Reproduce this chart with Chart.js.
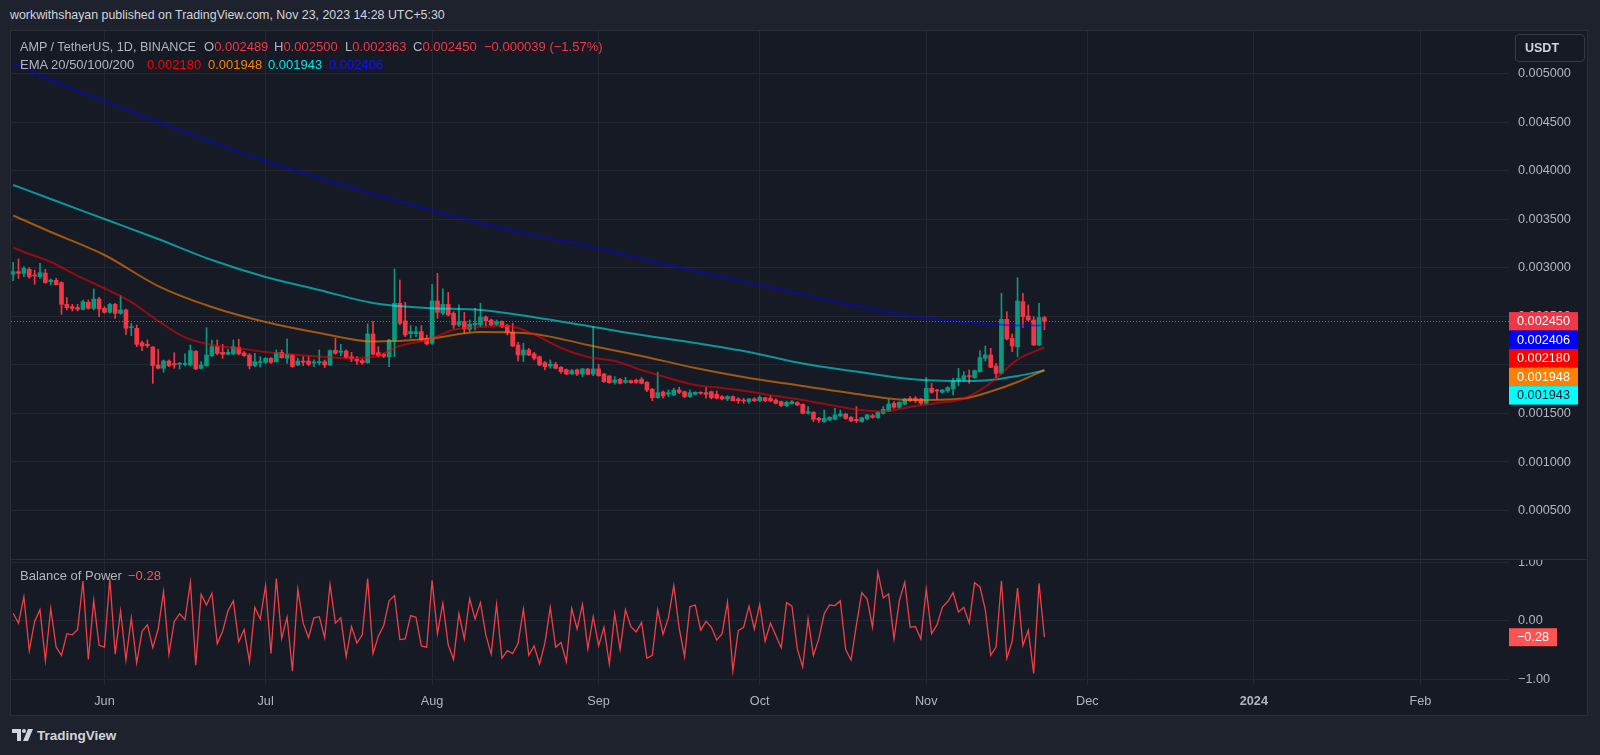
<!DOCTYPE html>
<html>
<head>
<meta charset="utf-8">
<title>AMP / TetherUS</title>
<script src="https://cdn.jsdelivr.net/npm/chart.js@4.4.1/dist/chart.umd.min.js"></script>
<style>
  html, body { margin: 0; padding: 0; }
  body { width: 1600px; height: 755px; background: #1e222d; position: relative; overflow: hidden;
         font-family: 'Liberation Sans', Arial, sans-serif; }
  #frame { position: absolute; left: 10px; top: 30px; width: 1576px; height: 684px;
           background: #161a25; border: 1px solid #2a2e39; }
  canvas { position: absolute; left: 11px; }
  #mainChart { top: 31px; }
  #bopChart { top: 560px; }
  #sep { position: absolute; left: 11px; top: 559px; width: 1576px; height: 1px; background: #2a2e39; }
  .txt { position: absolute; font-size: 13px; line-height: 16px; color: #b2b5be; white-space: nowrap; }
  #title { left: 10px; top: 7px; color: #d1d4dc; font-size: 12.4px; }
  #usdt { position: absolute; left: 1515px; top: 34px; width: 70px; height: 28px; box-sizing: border-box;
          border: 1px solid #363a45; border-radius: 4px; color: #d1d4dc; font-size: 12.5px; font-weight: bold;
          line-height: 26px; padding-left: 9px; }
  #logo { position: absolute; left: 12px; top: 728px; color: #d1d4dc; font-size: 13.5px; font-weight: bold; }
  #logo svg { vertical-align: -1px; margin-right: 4px; }
</style>
</head>
<body>
<div id="frame"></div>
<canvas id="mainChart" width="1576" height="528"></canvas>
<div id="sep"></div>
<canvas id="bopChart" width="1576" height="155"></canvas>

<div id="title" class="txt">workwithshayan published on TradingView.com, Nov 23, 2023 14:28 UTC+5:30</div>
<div id="usdt">USDT</div>

<div class="txt" style="left:20px;top:39px;font-size:12.6px">AMP / TetherUS, 1D, BINANCE</div>
<div class="txt" id="lgO" style="left:204px;top:39px"></div>
<div class="txt" id="lgH" style="left:274px;top:39px"></div>
<div class="txt" id="lgL" style="left:345px;top:39px"></div>
<div class="txt" id="lgC" style="left:413px;top:39px"></div>
<div class="txt" id="lgChg" style="left:484px;top:39px;color:#f23645"></div>

<div class="txt" style="left:20px;top:57px">EMA 20/50/100/200</div>
<div class="txt" id="lgE20" style="left:147px;top:57px;color:#ff0000"></div>
<div class="txt" id="lgE50" style="left:208px;top:57px;color:#ff8000"></div>
<div class="txt" id="lgE100" style="left:268px;top:57px;color:#00e5e5"></div>
<div class="txt" id="lgE200" style="left:329px;top:57px;color:#1010ff"></div>

<div class="txt" style="left:20px;top:568px">Balance of Power</div>
<div class="txt" id="lgBop" style="left:128px;top:568px;color:#ff5252"></div>

<div id="logo"><svg width="21" height="12" viewBox="0 0 21 12"><path d="M0 0h9v12H5V4H0z" fill="#d1d4dc"/><circle cx="12" cy="2" r="2" fill="#d1d4dc"/><path d="M16 0h5l-5 12h-5z" fill="#d1d4dc"/></svg>TradingView</div>

<script>
// AMP / USDT daily candles, Binance. First candle = May 15, 2023.
// x values are days counted from Jun 1, 2023.
const firstDay = -17;

const opens = [
  0.002935,0.002962,0.002945,0.002986,0.002928,0.002911,0.002948,0.002859,0.002873,0.002849,
  0.002625,0.002601,0.002591,0.002574,0.002646,0.002584,0.002680,0.002584,0.002543,0.002625,
  0.002533,0.002567,0.002385,0.002378,0.002230,0.002213,0.002186,0.002000,0.001966,0.002041,
  0.002014,0.002007,0.002007,0.002000,0.002141,0.001966,0.001993,0.002096,0.002189,0.002131,
  0.002110,0.002114,0.002182,0.002124,0.002103,0.001993,0.002024,0.002028,0.002069,0.002034,
  0.002131,0.002069,0.002103,0.002000,0.002041,0.002041,0.002021,0.002024,0.002034,0.002000,
  0.002151,0.002131,0.002144,0.002086,0.002059,0.002045,0.002024,0.002320,0.002127,0.002110,
  0.002086,0.002247,0.002636,0.002454,0.002323,0.002323,0.002344,0.002275,0.002223,0.002660,
  0.002533,0.002625,0.002533,0.002412,0.002447,0.002368,0.002412,0.002412,0.002495,0.002464,
  0.002419,0.002447,0.002406,0.002337,0.002206,0.002103,0.002155,0.002114,0.002086,0.002024,
  0.001990,0.002007,0.001976,0.001952,0.001907,0.001949,0.001907,0.001959,0.001907,0.001959,
  0.001907,0.001887,0.001821,0.001852,0.001821,0.001839,0.001842,0.001852,0.001821,0.001749,
  0.001663,0.001722,0.001698,0.001691,0.001742,0.001725,0.001674,0.001698,0.001718,0.001715,
  0.001725,0.001698,0.001674,0.001650,0.001674,0.001650,0.001639,0.001622,0.001650,0.001632,
  0.001663,0.001657,0.001639,0.001622,0.001581,0.001602,0.001612,0.001595,0.001502,0.001512,
  0.001450,0.001416,0.001433,0.001440,0.001474,0.001495,0.001461,0.001440,0.001416,0.001444,
  0.001478,0.001457,0.001502,0.001526,0.001605,0.001564,0.001598,0.001657,0.001657,0.001650,
  0.001605,0.001760,0.001742,0.001718,0.001732,0.001753,0.001839,0.001845,0.001890,0.001870,
  0.001931,0.002069,0.002103,0.001990,0.001914,0.002471,0.002275,0.002189,0.002653,0.002505,
  0.002464,0.002206,0.002489
];
const highs = [
  0.003058,0.003093,0.003014,0.003003,0.002979,0.003048,0.002986,0.002887,0.002893,0.002859,
  0.002694,0.002625,0.002625,0.002670,0.002670,0.002784,0.002698,0.002601,0.002636,0.002636,
  0.002715,0.002577,0.002430,0.002412,0.002247,0.002258,0.002189,0.002162,0.002052,0.002052,
  0.002127,0.002028,0.002114,0.002206,0.002148,0.002034,0.002385,0.002258,0.002258,0.002213,
  0.002162,0.002258,0.002265,0.002138,0.002117,0.002120,0.002086,0.002079,0.002076,0.002155,
  0.002155,0.002268,0.002110,0.002069,0.002086,0.002086,0.002052,0.002155,0.002052,0.002155,
  0.002275,0.002213,0.002155,0.002131,0.002086,0.002062,0.002423,0.002447,0.002189,0.002120,
  0.002265,0.002990,0.002876,0.002646,0.002406,0.002395,0.002406,0.002309,0.002832,0.002945,
  0.002784,0.002749,0.002550,0.002619,0.002543,0.002464,0.002584,0.002636,0.002505,0.002474,
  0.002464,0.002454,0.002419,0.002430,0.002234,0.002223,0.002172,0.002131,0.002093,0.002034,
  0.002052,0.002028,0.001983,0.001959,0.001955,0.001959,0.001966,0.001966,0.002395,0.002007,
  0.001914,0.001890,0.001880,0.001863,0.001873,0.001845,0.001856,0.001870,0.001828,0.001760,
  0.001925,0.001732,0.001742,0.001760,0.001770,0.001732,0.001742,0.001725,0.001725,0.001766,
  0.001732,0.001732,0.001684,0.001684,0.001681,0.001663,0.001657,0.001657,0.001663,0.001684,
  0.001670,0.001684,0.001650,0.001629,0.001629,0.001632,0.001622,0.001598,0.001571,0.001519,
  0.001461,0.001536,0.001468,0.001553,0.001536,0.001502,0.001468,0.001571,0.001461,0.001492,
  0.001492,0.001519,0.001571,0.001646,0.001622,0.001622,0.001657,0.001674,0.001674,0.001657,
  0.001873,0.001811,0.001749,0.001749,0.001777,0.001863,0.001966,0.001931,0.001949,0.001949,
  0.002148,0.002196,0.002172,0.002017,0.002739,0.002550,0.002320,0.002900,0.002739,0.002619,
  0.002498,0.002636,0.002500
];
const lows = [
  0.002869,0.002893,0.002911,0.002893,0.002832,0.002893,0.002842,0.002825,0.002825,0.002522,
  0.002567,0.002557,0.002557,0.002567,0.002574,0.002567,0.002498,0.002533,0.002533,0.002481,
  0.002522,0.002316,0.002302,0.002189,0.002148,0.002179,0.001811,0.001959,0.001925,0.001983,
  0.001966,0.001959,0.001990,0.001990,0.001952,0.001959,0.001986,0.002089,0.002103,0.002069,
  0.002103,0.002107,0.002103,0.002089,0.001959,0.001983,0.001979,0.002017,0.002017,0.002028,
  0.002069,0.002017,0.001976,0.001993,0.001993,0.001993,0.001983,0.002000,0.001973,0.001993,
  0.002110,0.002096,0.002069,0.002034,0.002007,0.002007,0.002017,0.002103,0.002083,0.002076,
  0.001983,0.002086,0.002412,0.002292,0.002275,0.002292,0.002247,0.002206,0.002213,0.002481,
  0.002516,0.002505,0.002378,0.002395,0.002327,0.002344,0.002361,0.002395,0.002406,0.002406,
  0.002406,0.002385,0.002309,0.002189,0.002041,0.002034,0.002096,0.002052,0.001993,0.001949,
  0.001966,0.001959,0.001914,0.001900,0.001904,0.001890,0.001880,0.001897,0.001890,0.001883,
  0.001821,0.001811,0.001801,0.001804,0.001811,0.001811,0.001811,0.001804,0.001725,0.001632,
  0.001657,0.001657,0.001674,0.001684,0.001705,0.001663,0.001663,0.001691,0.001698,0.001657,
  0.001650,0.001650,0.001639,0.001632,0.001629,0.001605,0.001605,0.001605,0.001622,0.001622,
  0.001622,0.001622,0.001598,0.001571,0.001571,0.001595,0.001581,0.001495,0.001492,0.001416,
  0.001409,0.001409,0.001426,0.001433,0.001468,0.001440,0.001416,0.001406,0.001409,0.001433,
  0.001450,0.001450,0.001492,0.001519,0.001553,0.001553,0.001588,0.001622,0.001612,0.001588,
  0.001595,0.001708,0.001646,0.001708,0.001718,0.001691,0.001787,0.001835,0.001811,0.001863,
  0.001925,0.002041,0.001973,0.001870,0.001907,0.002258,0.002138,0.002086,0.002388,0.002457,
  0.002199,0.002199,0.002363
];
const closes = [
  0.002962,0.002945,0.002997,0.002911,0.002918,0.002952,0.002849,0.002876,0.002828,0.002625,
  0.002591,0.002584,0.002574,0.002653,0.002584,0.002680,0.002577,0.002543,0.002625,0.002533,
  0.002567,0.002378,0.002395,0.002213,0.002196,0.002199,0.001993,0.001966,0.002041,0.001993,
  0.002000,0.002017,0.002014,0.002148,0.001959,0.002000,0.002103,0.002189,0.002120,0.002110,
  0.002131,0.002189,0.002114,0.002096,0.001990,0.002034,0.002034,0.002069,0.002028,0.002127,
  0.002076,0.002110,0.001983,0.002041,0.002028,0.002007,0.002028,0.002034,0.002000,0.002148,
  0.002120,0.002144,0.002076,0.002062,0.002041,0.002024,0.002320,0.002110,0.002093,0.002089,
  0.002258,0.002636,0.002430,0.002309,0.002344,0.002344,0.002258,0.002217,0.002660,0.002543,
  0.002625,0.002516,0.002412,0.002447,0.002371,0.002419,0.002430,0.002495,0.002454,0.002412,
  0.002447,0.002395,0.002337,0.002196,0.002103,0.002155,0.002103,0.002069,0.002000,0.001983,
  0.002007,0.001966,0.001931,0.001907,0.001942,0.001907,0.001959,0.001904,0.001959,0.001890,
  0.001828,0.001818,0.001845,0.001811,0.001839,0.001818,0.001821,0.001811,0.001742,0.001663,
  0.001715,0.001681,0.001715,0.001742,0.001718,0.001674,0.001715,0.001718,0.001708,0.001698,
  0.001663,0.001657,0.001650,0.001674,0.001632,0.001632,0.001629,0.001650,0.001632,0.001667,
  0.001632,0.001629,0.001605,0.001581,0.001615,0.001622,0.001588,0.001502,0.001519,0.001440,
  0.001433,0.001450,0.001461,0.001485,0.001495,0.001450,0.001423,0.001426,0.001457,0.001485,
  0.001461,0.001512,0.001543,0.001598,0.001564,0.001615,0.001650,0.001632,0.001632,0.001605,
  0.001760,0.001718,0.001732,0.001742,0.001766,0.001835,0.001863,0.001890,0.001880,0.001942,
  0.002076,0.002103,0.001976,0.001914,0.002471,0.002268,0.002196,0.002660,0.002498,0.002464,
  0.002206,0.002489,0.002450
];

// Balance of Power, one value per candle
const bop = [
  0.13,-0.04,0.41,-0.51,-0.01,0.19,-0.68,0.21,-0.45,-0.59,-0.22,-0.24,-0.15,0.68,-0.66,0.35,-0.42,
  -0.45,0.72,-0.57,0.17,-0.67,0.05,-0.72,-0.18,-0.07,-0.46,
  -0.14,0.50,-0.57,-0.01,0.12,0.02,0.66,-0.76,0.45,0.27,
  0.47,-0.39,-0.18,0.17,0.34,-0.36,-0.15,-0.70,0.23,0.03,
  0.60,-0.56,0.72,-0.30,0.06,-0.86,0.54,-0.04,-0.29,0.05,
  0.07,-0.29,0.62,-0.04,0.05,-0.61,-0.10,-0.38,-0.24,0.72,
  -0.56,-0.26,-0.08,0.34,0.43,-0.32,-0.31,0.09,0.06,-0.43,
  -0.45,0.69,-0.22,0.30,-0.41,-0.66,0.12,-0.31,0.38,0.03,
  0.31,-0.24,-0.57,0.28,-0.64,-0.51,-0.56,-0.39,0.20,-0.59,
  -0.43,-0.74,-0.38,0.23,-0.45,-0.37,-0.70,0.21,-0.14,0.28,
  -0.48,0.07,-0.43,-0.11,-0.74,0.12,-0.49,0.19,-0.10,-0.19,
  -0.03,-0.64,-0.59,0.19,-0.23,0.05,0.60,-0.12,-0.61,0.24,
  0.27,-0.16,-0.01,-0.11,-0.33,-0.22,0.32,-0.86,-0.17,-0.11,
  0.25,-0.14,0.28,-0.35,-0.04,-0.25,-0.46,0.31,0.25,-0.48,
  -0.79,0.03,-0.59,-0.31,0.12,0.27,0.26,0.34,-0.49,-0.67,
  -0.07,0.48,0.37,-0.11,0.83,0.39,0.46,-0.31,0.35,0.66,
  -0.11,-0.10,-0.31,0.54,-0.22,-0.07,0.23,0.33,0.48,0.15,
  0.23,-0.04,0.65,0.58,0.19,-0.59,-0.45,0.68,-0.64,-0.35,
  0.56,-0.42,-0.16,-0.90,0.64,-0.28
];

// EMA lines
const emaDays = [-17,-10,0,10,20,30,40,50,60,70,80,90,100,110,120,130,140,150,160,165,170,175];
const ema200 = [0.005113,0.004938,0.004722,0.004505,0.004299,0.004103,0.003928,0.003763,0.003608,0.003464,0.003336,
                0.003227,0.003096,0.002969,0.002849,0.002727,0.002608,0.002505,0.002443,0.002423,0.002407,0.002406];
const ema100 = [0.003856,0.003711,0.003505,0.003299,0.003082,0.002907,0.002773,0.002639,0.002588,0.002567,0.002492,
                0.002402,0.002309,0.002227,0.002134,0.002015,0.001933,0.001856,0.001835,0.001845,0.001887,0.001943];
const ema50  = [0.003541,0.003371,0.003134,0.002814,0.002598,0.002443,0.002330,0.002242,0.002268,0.002340,0.002320,
                0.002206,0.002093,0.001969,0.001866,0.001784,0.001701,0.001639,0.001655,0.001727,0.001825,0.001948];
const ema20Days = [-17,-15,-10,-5,0,5,10,15,20,25,30,35,40,45,50,55,60,65,70,75,80,85,90,95,100,
                   105,110,115,120,125,130,135,140,145,150,155,160,165,170,175];
const ema20 = [0.003211,0.003165,0.003062,0.002918,0.002789,0.002649,0.002454,0.002284,0.002206,0.002172,
               0.002134,0.002108,0.002088,0.002072,0.002082,0.002196,0.002258,0.002361,0.002392,0.002402,
               0.002314,0.002175,0.002082,0.002041,0.001948,0.001866,0.001794,0.001763,0.001727,0.001680,
               0.001639,0.001588,0.001541,0.001521,0.001567,0.001608,0.001655,0.001814,0.002057,0.002180];

const monthDays = [0, 30, 61, 92, 122, 153, 183, 214, 245];
const monthLabels = ['Jun', 'Jul', 'Aug', 'Sep', 'Oct', 'Nov', 'Dec', '2024', 'Feb'];
const priceTicks = [0.0005, 0.001, 0.0015, 0.002, 0.0025, 0.003, 0.0035, 0.004, 0.0045, 0.005];
const bopTicks = [1, 0, -1];

const UP = '#089981', DOWN = '#f23645';
const GRID = '#232733';
const FONT = "'Liberation Sans', Arial, sans-serif";
const X_MIN = -17.4, X_MAX = 261.5;

Chart.defaults.font.family = FONT;
Chart.defaults.color = '#b2b5be';

const fmt = v => v.toFixed(6);
const minus = s => s.replace('-', '\u2212');
const last = a => a[a.length - 1];

// candle datasets (floating bars)
const wicks = [], bodies = [], candleColors = [];
opens.forEach((o, i) => {
  const x = firstDay + i;
  wicks.push({ x: x, y: [lows[i], highs[i]] });
  bodies.push({ x: x, y: [o, closes[i]] });
  candleColors.push(closes[i] >= o ? UP : DOWN);
});
const pts = (days, vals) => days.map((d, i) => ({ x: d, y: vals[i] }));

function emaLine(label, days, vals, color) {
  return {
    type: 'line', label: label, data: pts(days, vals), borderColor: color, borderWidth: 2,
    pointRadius: 0, fill: false, cubicInterpolationMode: 'monotone'
  };
}

function badge(ctx, x, yMid, w, h, bg, fg, text) {
  ctx.fillStyle = bg;
  ctx.fillRect(x, yMid - h / 2, w, h);
  ctx.fillStyle = fg;
  ctx.fillText(text, x + w / 2, yMid + 0.5);
}

// dotted last-price line + value badges on the price scale
const pricePlugin = {
  id: 'pricePlugin',
  afterDatasetsDraw(chart) {
    const { ctx, chartArea, scales } = chart;
    const y = Math.round(scales.y.getPixelForValue(last(closes))) + 0.5;
    ctx.save();
    ctx.strokeStyle = DOWN;
    ctx.lineWidth = 1;
    ctx.setLineDash([1, 2]);
    ctx.beginPath();
    ctx.moveTo(chartArea.left, y);
    ctx.lineTo(chartArea.right, y);
    ctx.stroke();
    ctx.restore();
  },
  afterDraw(chart) {
    const { ctx, chartArea, scales } = chart;
    const items = [
      { v: last(closes), bg: DOWN, fg: '#ffffff' },
      { v: last(ema200), bg: '#0000ff', fg: '#ffffff' },
      { v: last(ema20), bg: '#ff0000', fg: '#ffffff' },
      { v: last(ema50), bg: '#ff8000', fg: '#ffffff' },
      { v: last(ema100), bg: '#00ffff', fg: '#131722' }
    ];
    const h = 18.5;
    let prevBottom = -Infinity;
    ctx.save();
    ctx.font = '12.7px ' + FONT;
    ctx.textAlign = 'center';
    ctx.textBaseline = 'middle';
    items.forEach(it => {
      let mid = scales.y.getPixelForValue(it.v);
      if (mid - h / 2 < prevBottom) mid = prevBottom + h / 2;
      badge(ctx, chartArea.right, mid, 69, h, it.bg, it.fg, fmt(it.v));
      prevBottom = mid + h / 2;
    });
    ctx.restore();
  }
};

const bopPlugin = {
  id: 'bopPlugin',
  afterDraw(chart) {
    const { ctx, chartArea, scales } = chart;
    ctx.save();
    ctx.font = '12.7px ' + FONT;
    ctx.textAlign = 'center';
    ctx.textBaseline = 'middle';
    badge(ctx, chartArea.right, scales.y.getPixelForValue(last(bop)), 48, 18, '#ff5252', '#ffffff',
          minus(last(bop).toFixed(2)));
    ctx.restore();
  }
};

const monthAxis = (showLabels) => ({
  type: 'linear', min: X_MIN, max: X_MAX, offset: false,
  grid: { color: GRID, drawTicks: false, offset: false },
  border: { display: false },
  afterBuildTicks: s => { s.ticks = monthDays.map(v => ({ value: v })); },
  afterFit: s => { s.height = showLabels ? 30 : 0; s.paddingLeft = 0; s.paddingRight = 0; },
  ticks: {
    display: showLabels, maxRotation: 0, autoSkip: false, padding: 9, color: '#b2b5be',
    font: c => ({ size: 12.7, weight: (c.tick && c.tick.value === 214) ? 'bold' : 'normal' }),
    callback: v => monthLabels[monthDays.indexOf(v)]
  }
});

const rightAxis = (min, max, tickVals, format) => ({
  position: 'right', min: min, max: max,
  grid: { color: GRID, drawTicks: false },
  border: { display: false },
  afterBuildTicks: s => { s.ticks = tickVals.map(v => ({ value: v })); },
  afterFit: s => { s.width = 78; s.paddingTop = 0; s.paddingBottom = 0; },
  ticks: { padding: 9, color: '#b2b5be', font: { size: 12.7 }, callback: format }
});

const baseOptions = {
  responsive: false, animation: false, devicePixelRatio: 1,
  layout: { padding: 0 },
  plugins: { legend: { display: false }, tooltip: { enabled: false } }
};

new Chart(document.getElementById('mainChart'), {
  type: 'bar',
  data: {
    datasets: [
      emaLine('EMA 20', ema20Days, ema20, 'rgba(255,0,0,0.55)'),
      emaLine('EMA 50', emaDays, ema50, 'rgba(255,128,0,0.6)'),
      emaLine('EMA 100', emaDays, ema100, 'rgba(0,255,255,0.55)'),
      emaLine('EMA 200', emaDays, ema200, 'rgba(0,0,255,0.5)'),
      { label: 'body', data: bodies, backgroundColor: candleColors, barThickness: 4, grouped: false, minBarLength: 1 },
      { label: 'wick', data: wicks, backgroundColor: candleColors, barThickness: 1, grouped: false }
    ]
  },
  options: Object.assign({}, baseOptions, {
    scales: {
      x: monthAxis(false),
      y: rightAxis(0, 0.005443, priceTicks, v => fmt(v))
    }
  }),
  plugins: [pricePlugin]
});

new Chart(document.getElementById('bopChart'), {
  type: 'line',
  data: {
    datasets: [{
      label: 'Balance of Power', data: bop.map((v, i) => ({ x: firstDay + i, y: v })),
      borderColor: '#f23f45', borderWidth: 1.3, pointRadius: 0, tension: 0, fill: false
    }]
  },
  options: Object.assign({}, baseOptions, {
    scales: {
      x: monthAxis(true),
      y: rightAxis(-1.097, 1.039, bopTicks, v => minus(v.toFixed(2)))
    }
  }),
  plugins: [bopPlugin]
});

// legend texts
const lbl = (id, letter, v) => {
  document.getElementById(id).innerHTML = letter + '<span style="color:' + DOWN + '">' + fmt(v) + '</span>';
};
const n = closes.length;
lbl('lgO', 'O', opens[n - 1]);
lbl('lgH', 'H', highs[n - 1]);
lbl('lgL', 'L', lows[n - 1]);
lbl('lgC', 'C', closes[n - 1]);
const chg = closes[n - 1] - closes[n - 2];
document.getElementById('lgChg').textContent =
  minus(chg.toFixed(6)) + ' (' + minus((chg / closes[n - 2] * 100).toFixed(2)) + '%)';
document.getElementById('lgE20').textContent = fmt(last(ema20));
document.getElementById('lgE50').textContent = fmt(last(ema50));
document.getElementById('lgE100').textContent = fmt(last(ema100));
document.getElementById('lgE200').textContent = fmt(last(ema200));
document.getElementById('lgBop').textContent = minus(last(bop).toFixed(2));
</script>
</body>
</html>
